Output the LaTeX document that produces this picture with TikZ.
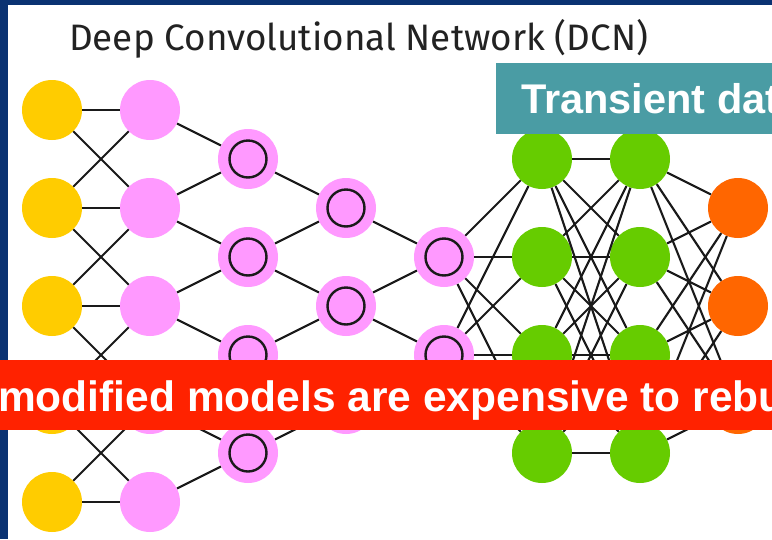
\documentclass[tikz,border=0pt]{standalone}
\usepackage{fontspec}
\setmainfont{Liberation Sans}
\newfontfamily\titlefont{Fira Sans}

\definecolor{frameblue}{HTML}{0A3272}
\definecolor{inyellow}{HTML}{FFCC00}
\definecolor{convpink}{HTML}{FF99FF}
\definecolor{hidgreen}{HTML}{66CC00}
\definecolor{outorange}{HTML}{FF6600}
\definecolor{bannerteal}{HTML}{4A9CA4}
\definecolor{bannerred}{HTML}{FF2200}
\definecolor{titlegray}{HTML}{222222}
\definecolor{linkgray}{HTML}{1A1A1A}

\tikzset{
  neuron/.style={circle, minimum size=60pt, inner sep=0pt, draw=none},
  inputcell/.style={neuron, fill=inyellow},
  poolcell/.style={neuron, fill=convpink},
  kernelcell/.style={neuron, fill=convpink,
    path picture={\draw[line width=2.4pt, draw=linkgray]
      (path picture bounding box.center) circle (18.5pt);}},
  hiddencell/.style={neuron, fill=hidgreen},
  outputcell/.style={neuron, fill=outorange},
  link/.style={line width=2.1pt, draw=linkgray},
  bannertext/.style={text=white, inner sep=0pt, anchor=base west}
}

\begin{document}
\begin{tikzpicture}[x=1pt, y=-1pt]
  \useasboundingbox (0,0) rectangle (772,539);
  \clip (0,0) rectangle (772,539);

  % slide frame
  \fill[frameblue] (0,0) rectangle (772,539);
  \fill[white] (8,5) rectangle (772,539);

  % title
  \node[anchor=base west, inner sep=0pt, text=titlegray,
        font=\titlefont\fontsize{36.8pt}{44pt}\selectfont] (title) at (69,50)
        {Deep Convolutional Network (DCN)};

  % layers of the network
  \foreach \i in {1,...,5} {
    \node[inputcell] (a\i) at (52,{110+98*(\i-1)}) {};
    \node[poolcell]  (b\i) at (150,{110+98*(\i-1)}) {};
  }
  \foreach \i in {1,...,4} {
    \node[kernelcell] (c\i) at (248,{159+98*(\i-1)}) {};
    \node[hiddencell] (f\i) at (542,{159+98*(\i-1)}) {};
    \node[hiddencell] (g\i) at (640,{159+98*(\i-1)}) {};
  }
  \foreach \i in {1,2,3} {
    \node[kernelcell] (d\i) at (346,{208+98*(\i-1)}) {};
    \node[outputcell] (h\i) at (738,{208+98*(\i-1)}) {};
  }
  \foreach \i in {1,2} {
    \node[kernelcell] (e\i) at (444,{257+98*(\i-1)}) {};
  }

  % local connections
  \foreach \s/\t in {a1/b1,a1/b2,a2/b1,a2/b2,a2/b3,a3/b2,a3/b3,a3/b4,
                     a4/b3,a4/b4,a4/b5,a5/b4,a5/b5,
                     b1/c1,b2/c1,b2/c2,b3/c2,b3/c3,b4/c3,b4/c4,b5/c4,
                     c1/d1,c2/d1,c2/d2,c3/d2,c3/d3,c4/d3,
                     d1/e1,d2/e1,d2/e2,d3/e2}
    \draw[link] (\s) -- (\t);

  % dense connections
  \foreach \i in {1,2} \foreach \j in {1,...,4} \draw[link] (e\i) -- (f\j);
  \foreach \i in {1,...,4} \foreach \j in {1,...,4} \draw[link] (f\i) -- (g\j);
  \foreach \i in {1,...,4} \foreach \j in {1,2,3} \draw[link] (g\i) -- (h\j);

  % overlay banners
  \fill[bannerteal] (496,63) rectangle (780,134);
  \node[bannertext, font=\bfseries\fontsize{41.5pt}{50pt}\selectfont]
        (transient) at (521,113) {Transient dat};

  \fill[bannerred] (-5,360) rectangle (780,430);
  \node[bannertext, font=\bfseries\fontsize{42.5pt}{50pt}\selectfont]
        (rebuild) at (-2,411) {modified models are expensive to rebu};
\end{tikzpicture}
\end{document}
